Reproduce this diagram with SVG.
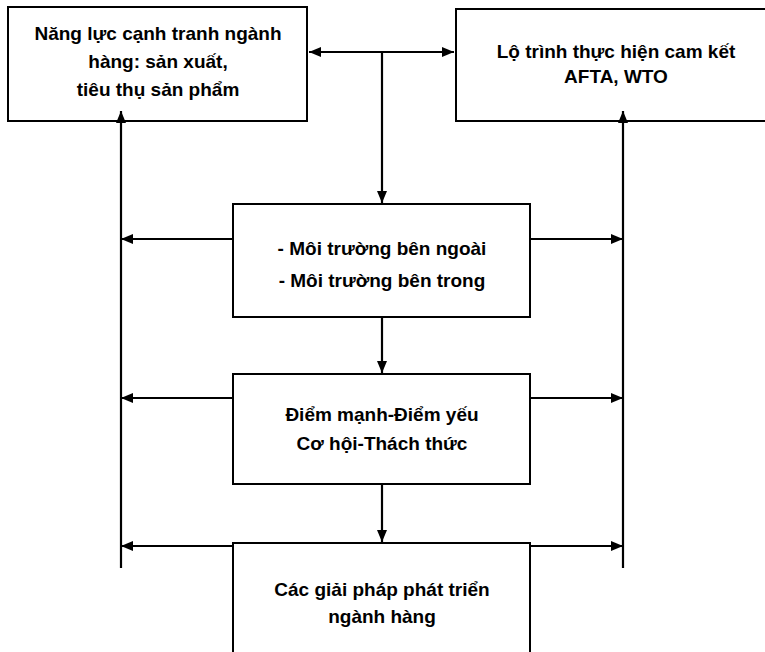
<svg xmlns="http://www.w3.org/2000/svg" width="765" height="652" viewBox="0 0 765 652">
<style>
.box{fill:#fff;stroke:#000;stroke-width:2}
.t{font-family:"Liberation Sans",Arial,sans-serif;font-weight:bold;font-size:19px;fill:#000;text-anchor:middle}
.c{fill:none;stroke:#000;stroke-width:2.2}
</style>
<defs>
<marker id="ah" markerUnits="userSpaceOnUse" markerWidth="14" markerHeight="12" refX="12" refY="6" orient="auto-start-reverse">
<path d="M0,1 L12,6 L0,11 Z" fill="#000"/>
</marker>
</defs>
<rect width="765" height="652" fill="#fff"/>
<g id="n1">
<rect class="box" x="8" y="7" width="299" height="114"/>
<text class="t" x="158" y="40">Năng lực cạnh tranh ngành</text>
<text class="t" x="158" y="68">hàng: sản xuất,</text>
<text class="t" x="158" y="96">tiêu thụ sản phẩm</text>
</g>
<g id="n2">
<rect class="box" x="456" y="9" width="320" height="112"/>
<text class="t" x="616" y="58">Lộ trình thực hiện cam kết</text>
<text class="t" x="616" y="83">AFTA, WTO</text>
</g>
<g id="n3">
<rect class="box" x="233" y="204" width="297" height="113"/>
<text class="t" x="382" y="255">- Môi trường bên ngoài</text>
<text class="t" x="382" y="287">- Môi trường bên trong</text>
</g>
<g id="n4">
<rect class="box" x="233" y="374" width="297" height="110"/>
<text class="t" x="382" y="421">Điểm mạnh-Điểm yếu</text>
<text class="t" x="382" y="450">Cơ hội-Thách thức</text>
</g>
<g id="n5">
<rect class="box" x="233" y="543" width="297" height="120"/>
<text class="t" x="382" y="596">Các giải pháp phát triển</text>
<text class="t" x="382" y="623">ngành hàng</text>
</g>
<g id="connectors">
<line class="c" x1="309" y1="52" x2="454" y2="52" marker-start="url(#ah)" marker-end="url(#ah)"/>
<line class="c" x1="382" y1="52" x2="382" y2="203" marker-end="url(#ah)"/>
<line class="c" x1="121" y1="568" x2="121" y2="111" marker-end="url(#ah)"/>
<line class="c" x1="623" y1="568" x2="623" y2="111" marker-end="url(#ah)"/>
<line class="c" x1="233" y1="239" x2="121" y2="239" marker-end="url(#ah)"/>
<line class="c" x1="530" y1="239" x2="623" y2="239" marker-end="url(#ah)"/>
<line class="c" x1="233" y1="398" x2="121" y2="398" marker-end="url(#ah)"/>
<line class="c" x1="530" y1="398" x2="623" y2="398" marker-end="url(#ah)"/>
<line class="c" x1="233" y1="546" x2="121" y2="546" marker-end="url(#ah)"/>
<line class="c" x1="530" y1="546" x2="623" y2="546" marker-end="url(#ah)"/>
<line class="c" x1="382" y1="317" x2="382" y2="373" marker-end="url(#ah)"/>
<line class="c" x1="382" y1="484" x2="382" y2="542" marker-end="url(#ah)"/>
</g>
</svg>
